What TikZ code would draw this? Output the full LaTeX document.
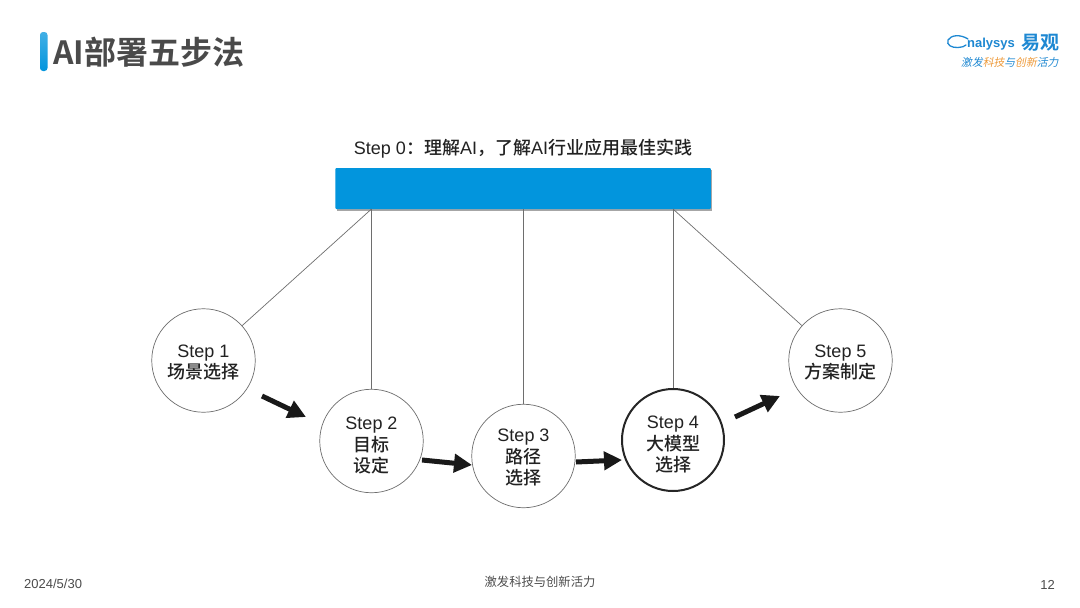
\documentclass[tikz,border=0pt]{standalone}
\usepackage{fontspec}
\setmainfont{Liberation Sans}
\newfontfamily\cjk{Noto Sans CJK SC Medium}
\newfontfamily\cjkb{Noto Sans CJK SC Bold}
\newfontfamily\cjkr{Noto Sans CJK SC}
\newfontfamily\cjki[FakeSlant=0.2]{Noto Sans CJK SC}
\usetikzlibrary{arrows.meta}
\definecolor{barblue}{HTML}{0295DD}
\definecolor{titlegray}{HTML}{4A4A4A}
\definecolor{stepline}{HTML}{6E6E6E}
\definecolor{logoblue}{HTML}{1E88D2}
\definecolor{logoorange}{HTML}{EE9A3A}
\definecolor{ink}{HTML}{222222}
\tikzset{
  stepnode/.style={circle,draw=stepline,line width=0.7pt,minimum size=103.5pt,inner sep=0pt,align=center,
    text=ink,font=\fontsize{18}{22.5}\selectfont,fill=white},
  keystep/.style={stepnode,draw=black!85,line width=2pt,minimum size=102pt},
  link/.style={draw=stepline,line width=0.7pt},
  flow/.style={draw=black!90,line width=5pt,-{Triangle[length=18pt,width=18pt]}},
  footer/.style={font=\fontsize{13}{15}\selectfont,text=black!70,inner sep=0pt},
}
\begin{document}
\begin{tikzpicture}[x=1pt,y=-1pt]
\useasboundingbox[fill=white] (0,0) rectangle (1080,608);
% title
\shade[top color=barblue!75!white,bottom color=barblue,rounded corners=3pt] (40,32) rectangle (47.5,71);
\node[anchor=west,inner sep=0pt,text=titlegray,font=\fontsize{32}{34}\selectfont\cjkb] (title) at (53,52) {AI部署五步法};
% logo
\draw[logoblue,line width=1.3pt,line cap=round] (968,39) .. controls (960,34) and (951,35) .. (948,40) .. controls (946,45) and (952,48) .. (958,47.5) .. controls (962,47) and (965,46.5) .. (966,45);
\node[anchor=west,inner sep=0pt,text=logoblue,font=\fontsize{13}{15}\selectfont\bfseries] (logoa) at (967,44) {nalysys};
\node[anchor=west,inner sep=0pt,text=logoblue,font=\fontsize{19}{21}\selectfont\cjkb] (logob) at (1021,42.5) {易观};
\node[anchor=west,inner sep=0pt,font=\fontsize{10.8}{12}\selectfont\cjki] (logoc) at (961,62) {\color{logoblue}激发\color{logoorange}科技\color{logoblue}与\color{logoorange}创新\color{logoblue}活力};
% bar
\node[anchor=south,inner sep=0pt,text=ink,font=\fontsize{18}{20}\selectfont] (s0) at (523,158) {Step 0{\cjk：理解}AI{\cjk，了解}AI{\cjk 行业应用最佳实践}};
\fill[black!35] (336.5,170) rectangle (711.5,211);
\node[draw=none,fill=barblue,minimum width=375.5pt,minimum height=41pt,inner sep=0pt,rounded corners=1pt] (bar) at (523,188.5) {};
\coordinate (b1) at (371.5,209);
\coordinate (b3) at (523.5,209);
\coordinate (b4) at (673,209);
% steps
\node[stepnode] (s1) at (203.5,360.5) {\rule{0pt}{17pt}Step 1\\[-1pt]{\cjk 场景选择}};
\node[stepnode] (s2) at (371.5,441) {\rule{0pt}{22pt}Step 2\\[-1pt]{\cjk 目标}\\[-1pt]{\cjk 设定}};
\node[stepnode] (s3) at (523.5,456) {\rule{0pt}{16pt}Step 3\\[-1pt]{\cjk 路径}\\[-1pt]{\cjk 选择}};
\node[keystep] (s4) at (673,440) {\rule{0pt}{22pt}Step 4\\[-1pt]{\cjk 大模型}\\[-1pt]{\cjk 选择}};
\node[stepnode] (s5) at (840.5,360.5) {\rule{0pt}{17pt}Step 5\\[-1pt]{\cjk 方案制定}};
% links
\draw[link] (b1) -- (s1);
\draw[link] (b1) -- (s2);
\draw[link] (b3) -- (s3);
\draw[link] (b4) -- (s4);
\draw[link] (b4) -- (s5);
% arrows
\coordinate (a1) at (262,396); \coordinate (a2) at (306,417);
\coordinate (a3) at (422,460); \coordinate (a4) at (472,465);
\coordinate (a5) at (576,462); \coordinate (a6) at (622,460);
\coordinate (a7) at (735,417); \coordinate (a8) at (780,396);
\draw[flow] (a1) -- (a2);
\draw[flow] (a3) -- (a4);
\draw[flow] (a5) -- (a6);
\draw[flow] (a7) -- (a8);
% footer
\node[footer,anchor=west] (date) at (24,584) {2024/5/30};
\node[footer,font=\fontsize{12.3}{14}\selectfont\cjkr] (slogan) at (540,582) {激发科技与创新活力};
\node[footer,anchor=east] (page) at (1055,585) {12};
\end{tikzpicture}
\end{document}
